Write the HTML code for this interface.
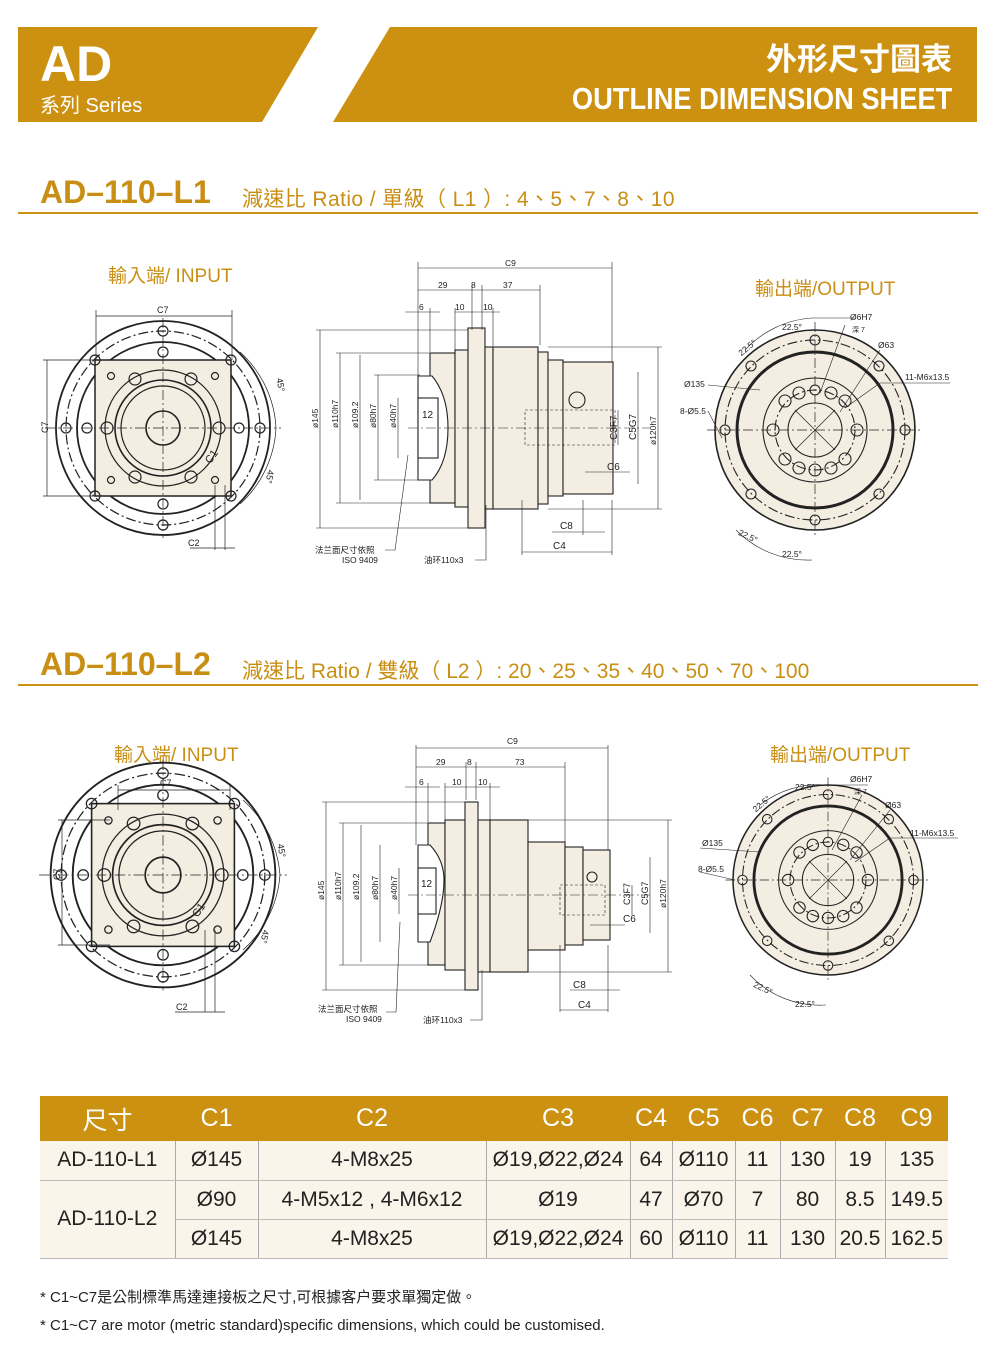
<!DOCTYPE html>
<html><head><meta charset="utf-8">
<style>
*{margin:0;padding:0;box-sizing:border-box}
body{width:1000px;height:1359px;background:#fff;position:relative;overflow:hidden;font-family:"Liberation Sans","Noto Sans CJK TC",sans-serif}
.abs{position:absolute}
.gold{color:#c98f14}
table{border-collapse:collapse;position:absolute;left:40px;top:1096px;width:908px;font-family:"Liberation Sans","Noto Sans CJK TC",sans-serif}
td,th{text-align:center;font-size:21px;color:#222;border-right:1px solid #aaa;border-bottom:1px solid #bbb;background:#fbf4ea;padding:0}
th{background:#cc9110;color:#fff;font-weight:normal;font-size:25px;height:45px;border-right:none;border-bottom:none}
td{height:39px}
td:last-child{border-right:none}
</style></head><body>
<svg class="abs" style="left:0;top:0" width="1000" height="130">
<polygon points="18,27 318,27 262,122 18,122" fill="#cc9110"/>
<polygon points="390,27 977,27 977,122 333,122" fill="#cc9110"/>
</svg>
<div class="abs" style="left:40px;top:34px;color:#fff;font-size:50px;font-weight:bold;line-height:60px">AD</div>
<div class="abs" style="left:40px;top:89px;color:#fff;font-size:20px">系列 Series</div>
<div class="abs" style="right:48px;top:34px;color:#fff;font-size:31px;font-weight:bold">外形尺寸圖表</div>
<div class="abs" style="right:48px;top:81px;color:#fff;font-size:31px;font-weight:bold;transform:scaleX(0.88);transform-origin:right">OUTLINE DIMENSION SHEET</div>

<div class="abs gold" style="left:40px;top:174px;font-size:32px;font-weight:bold">AD–110–L1</div>
<div class="abs gold" style="left:242px;top:183px;font-size:21px;letter-spacing:0.4px">減速比 Ratio / 單級（ L1 ）:  4、5、7、8、10</div>
<div class="abs" style="left:18px;top:212px;width:960px;height:2px;background:#cc9110"></div>
<div class="abs gold" style="left:40px;top:646px;font-size:32px;font-weight:bold">AD–110–L2</div>
<div class="abs gold" style="left:242px;top:655px;font-size:21px;letter-spacing:0px">減速比 Ratio / 雙級（ L2 ）:  20、25、35、40、50、70、100</div>
<div class="abs" style="left:18px;top:684px;width:960px;height:2px;background:#cc9110"></div>

<div class="abs gold" style="left:108px;top:261px;font-size:19px">輸入端/ INPUT</div>
<div class="abs gold" style="left:755px;top:274px;font-size:19px">輸出端/OUTPUT</div>
<div class="abs gold" style="left:114px;top:740px;font-size:19px">輸入端/ INPUT</div>
<div class="abs gold" style="left:770px;top:740px;font-size:19px">輸出端/OUTPUT</div>

<svg class="abs" style="left:0;top:0" width="1000" height="1090" font-family="Liberation Sans, Noto Sans CJK TC, sans-serif" font-size="9" fill="#222">
<defs>
<g id="inp" stroke="#222" fill="none" stroke-width="1.2">
<circle r="107" fill="#fff" stroke-width="1.8"/>
<circle r="97" stroke-dasharray="10,3,2,3"/>
<circle r="86" stroke-width="1.8"/>
<rect x="-68" y="-68" width="136" height="136" fill="#f4ede2" stroke-width="1.5"/>
<circle r="58"/><circle r="48" stroke-width="1.6"/><circle r="42"/><circle r="17" stroke-width="1.6"/>
<line x1="-118" y1="0" x2="118" y2="0" stroke-dasharray="10,3,2,3" stroke-width=".7"/>
<line x1="0" y1="-110" x2="0" y2="110" stroke-dasharray="10,3,2,3" stroke-width=".7"/>
<g stroke-width="1.2"><circle cx="0" cy="-97" r="5"/><circle cx="0" cy="97" r="5"/><circle cx="-97" cy="0" r="5"/><circle cx="97" cy="0" r="5"/>
<circle cx="-68" cy="-68" r="5"/><circle cx="68" cy="-68" r="5"/><circle cx="-68" cy="68" r="5"/><circle cx="68" cy="68" r="5"/>
<circle cx="0" cy="-76" r="5"/><circle cx="0" cy="76" r="5"/><circle cx="-76" cy="0" r="5"/><circle cx="76" cy="0" r="5"/>
<circle cx="-28" cy="-49" r="6"/><circle cx="28" cy="-49" r="6"/><circle cx="-28" cy="49" r="6"/><circle cx="28" cy="49" r="6"/>
<circle cx="-56" cy="0" r="6"/><circle cx="56" cy="0" r="6"/>
<circle cx="-52" cy="-52" r="3.5"/><circle cx="52" cy="-52" r="3.5"/><circle cx="-52" cy="52" r="3.5"/><circle cx="52" cy="52" r="3.5"/></g>
</g>
<g id="outp" stroke="#222" fill="none" stroke-width="1.1">
<circle r="100" fill="#f4ede2" stroke-width="1.6"/>
<circle r="90" stroke-dasharray="10,3,2,3"/>
<circle r="78" stroke-width="3"/>
<circle r="52"/><circle r="40" stroke-dasharray="10,3,2,3"/><circle r="27"/>
<line x1="-108" y1="0" x2="108" y2="0" stroke-dasharray="10,3,2,3" stroke-width=".7"/>
<line x1="0" y1="-108" x2="0" y2="108" stroke-dasharray="10,3,2,3" stroke-width=".7"/>
<line x1="-20" y1="-20" x2="20" y2="20" stroke-width=".7"/><line x1="20" y1="-20" x2="-20" y2="20" stroke-width=".7"/>
<circle cx="0" cy="-90" r="5"/><circle cx="0" cy="90" r="5"/><circle cx="-90" cy="0" r="5"/><circle cx="90" cy="0" r="5"/>
<circle cx="-64" cy="-64" r="5"/><circle cx="64" cy="-64" r="5"/><circle cx="-64" cy="64" r="5"/><circle cx="64" cy="64" r="5"/>
<circle cx="0" cy="-40" r="5"/><circle cx="0" cy="40" r="6"/><circle cx="-16" cy="-37" r="6"/><circle cx="16" cy="-37" r="6"/>
<circle cx="-30" cy="-29" r="6"/><circle cx="30" cy="-29" r="6"/><circle cx="-42" cy="0" r="6"/><circle cx="42" cy="0" r="6"/>
<circle cx="-30" cy="29" r="6"/><circle cx="30" cy="29" r="6"/><circle cx="-16" cy="38" r="6"/><circle cx="16" cy="38" r="6"/>
</g>
</defs>

<!-- L1 input -->
<use href="#inp" x="163" y="428"/>
<g stroke="#222" stroke-width=".7" fill="none">
<line x1="96" y1="316" x2="232" y2="316"/><line x1="96" y1="310" x2="96" y2="360"/><line x1="232" y1="310" x2="232" y2="360"/>
<line x1="47" y1="360" x2="47" y2="496"/><line x1="43" y1="360" x2="96" y2="360"/><line x1="43" y1="496" x2="96" y2="496"/>
<path d="M240,352 A110,110 0 0 1 276,428 A110,110 0 0 1 240,504"/>
<line x1="215" y1="485" x2="215" y2="550"/><line x1="225" y1="485" x2="225" y2="550"/><line x1="190" y1="548" x2="235" y2="548"/>
</g>
<text x="157" y="313">C7</text><text x="37" y="434" transform="rotate(-90 42 428)">C7</text>
<text x="188" y="546">C2</text><text x="276" y="385" transform="rotate(80 280 382)">45°</text><text x="265" y="478" transform="rotate(100 270 475)">45°</text>
<text x="205" y="462" transform="rotate(-55 210 458)" font-size="11">C1</text>

<!-- L2 input -->
<use href="#inp" transform="translate(163 875) scale(1.05)"/>
<g stroke="#222" stroke-width=".7" fill="none">
<line x1="118" y1="790" x2="230" y2="790"/><line x1="118" y1="785" x2="118" y2="810"/><line x1="230" y1="785" x2="230" y2="810"/>
<line x1="62" y1="820" x2="62" y2="945"/><line x1="58" y1="820" x2="110" y2="820"/><line x1="58" y1="945" x2="110" y2="945"/>
<path d="M243,800 A112,112 0 0 1 280,875 A112,112 0 0 1 243,950"/>
<line x1="205" y1="930" x2="205" y2="1012"/><line x1="215" y1="930" x2="215" y2="1012"/><line x1="175" y1="1012" x2="225" y2="1012"/>
</g>
<text x="160" y="786">C7</text><text x="50" y="880" transform="rotate(-90 55 875)">C7</text><text x="176" y="1010">C2</text>
<text x="276" y="850" transform="rotate(80 280 848)">45°</text><text x="260" y="938" transform="rotate(100 265 935)">45°</text>
<text x="193" y="915" transform="rotate(-55 198 912)" font-size="11">C1</text>

<!-- L1 side -->
<g stroke="#222" stroke-width="1.1" fill="#f4ede2">
<rect x="430" y="353" width="25" height="150"/>
<rect x="455" y="350" width="13" height="157"/>
<rect x="468" y="328" width="17" height="200"/>
<rect x="485" y="347" width="8" height="162"/>
<rect x="493" y="347" width="45" height="162"/>
<rect x="538" y="352" width="10" height="152"/>
<rect x="548" y="360" width="15" height="136"/>
<rect x="563" y="362" width="50" height="132"/>
<path d="M418,376 L432,376 Q448,395 448,428 Q448,462 432,480 L418,480 Z" fill="#fff"/>
<rect x="418" y="398" width="20" height="60" fill="#fff"/>
<circle cx="577" cy="400" r="8" fill="none"/>
</g>
<g stroke="#222" stroke-width=".6" fill="none">
<line x1="408" y1="428" x2="650" y2="428" stroke-dasharray="10,3,2,3"/>
<rect x="525" y="410" width="90" height="35" stroke-dasharray="3,2"/>
<line x1="418" y1="262" x2="418" y2="380"/><line x1="612" y1="262" x2="612" y2="362"/><line x1="418" y1="268" x2="612" y2="268"/>
<line x1="418" y1="290" x2="540" y2="290"/><line x1="472" y1="285" x2="472" y2="330"/><line x1="482" y1="285" x2="482" y2="330"/><line x1="540" y1="285" x2="540" y2="345"/>
<line x1="405" y1="312" x2="440" y2="312"/><line x1="430" y1="308" x2="430" y2="352"/><line x1="455" y1="312" x2="500" y2="312"/><line x1="455" y1="308" x2="455" y2="350"/><line x1="493" y1="308" x2="493" y2="346"/>
<line x1="320" y1="330" x2="320" y2="528"/><line x1="316" y1="330" x2="468" y2="330"/><line x1="316" y1="528" x2="468" y2="528"/>
<line x1="340" y1="353" x2="340" y2="503"/><line x1="336" y1="353" x2="430" y2="353"/><line x1="336" y1="503" x2="430" y2="503"/>
<line x1="360" y1="355" x2="360" y2="500"/>
<line x1="378" y1="375" x2="378" y2="480"/><line x1="374" y1="375" x2="420" y2="375"/><line x1="374" y1="480" x2="420" y2="480"/>
<line x1="398" y1="398" x2="398" y2="458"/>
<line x1="658" y1="347" x2="658" y2="509"/><line x1="548" y1="347" x2="662" y2="347"/><line x1="548" y1="509" x2="662" y2="509"/>
<line x1="638" y1="372" x2="638" y2="484"/><line x1="618" y1="410" x2="618" y2="445"/>
<line x1="585" y1="472" x2="630" y2="472"/>
<line x1="522" y1="500" x2="522" y2="555"/><line x1="612" y1="500" x2="612" y2="555"/><line x1="522" y1="552" x2="612" y2="552"/>
<line x1="583" y1="500" x2="583" y2="535"/><line x1="552" y1="532" x2="605" y2="532"/>
<path d="M408,455 L395,550 L385,550"/><path d="M486,505 L486,560 L475,560"/>
</g>
<g font-size="8.5">
<text x="505" y="266">C9</text><text x="438" y="288">29</text><text x="471" y="288">8</text><text x="503" y="288">37</text>
<text x="419" y="310">6</text><text x="455" y="310">10</text><text x="483" y="310">10</text>
<text x="422" y="418" font-size="10">12</text>
<text x="318" y="428" transform="rotate(-90 318 428)">ø145</text><text x="338" y="428" transform="rotate(-90 338 428)">ø110h7</text>
<text x="358" y="428" transform="rotate(-90 358 428)">ø109.2</text><text x="376" y="428" transform="rotate(-90 376 428)">ø80h7</text>
<text x="396" y="428" transform="rotate(-90 396 428)">ø40h7</text>
<text x="617" y="440" transform="rotate(-90 617 440)" font-size="10">C3F7</text><text x="636" y="440" transform="rotate(-90 636 440)" font-size="10">C5G7</text>
<text x="656" y="445" transform="rotate(-90 656 445)">ø120h7</text>
<text x="607" y="470" font-size="10">C6</text><text x="560" y="529" font-size="10">C8</text><text x="553" y="549" font-size="10">C4</text>
<text x="315" y="553">法兰面尺寸依照</text><text x="342" y="563">ISO 9409</text><text x="424" y="563">油环110x3</text>
</g>

<!-- L2 side -->
<g stroke="#222" stroke-width="1.1" fill="#f4ede2">
<rect x="428" y="823" width="17" height="142"/>
<rect x="445" y="820" width="20" height="150"/>
<rect x="465" y="802" width="13" height="188"/>
<rect x="478" y="820" width="12" height="152"/>
<rect x="490" y="820" width="38" height="152"/>
<rect x="528" y="842" width="37" height="108"/>
<rect x="565" y="847" width="18" height="98"/>
<rect x="583" y="850" width="27" height="90"/>
<path d="M418,845 L430,845 Q444,860 444,880 Q444,905 430,942 L418,942 Z" fill="#fff"/>
<rect x="418" y="868" width="18" height="46" fill="#fff"/>
<circle cx="592" cy="877" r="5" fill="none"/>
</g>
<g stroke="#222" stroke-width=".6" fill="none">
<line x1="408" y1="895" x2="650" y2="895" stroke-dasharray="10,3,2,3"/>
<rect x="560" y="885" width="45" height="30" stroke-dasharray="3,2"/>
<line x1="416" y1="745" x2="416" y2="845"/><line x1="608" y1="745" x2="608" y2="850"/><line x1="416" y1="748" x2="608" y2="748"/>
<line x1="416" y1="767" x2="565" y2="767"/><line x1="466" y1="762" x2="466" y2="800"/><line x1="476" y1="762" x2="476" y2="800"/><line x1="565" y1="762" x2="565" y2="842"/>
<line x1="405" y1="787" x2="440" y2="787"/><line x1="428" y1="783" x2="428" y2="822"/><line x1="445" y1="787" x2="500" y2="787"/><line x1="445" y1="783" x2="445" y2="820"/><line x1="490" y1="783" x2="490" y2="820"/>
<line x1="326" y1="802" x2="326" y2="990"/><line x1="322" y1="802" x2="465" y2="802"/><line x1="322" y1="990" x2="465" y2="990"/>
<line x1="343" y1="823" x2="343" y2="965"/><line x1="339" y1="823" x2="428" y2="823"/><line x1="339" y1="965" x2="428" y2="965"/>
<line x1="361" y1="825" x2="361" y2="962"/>
<line x1="380" y1="845" x2="380" y2="942"/><line x1="399" y1="868" x2="399" y2="914"/>
<line x1="668" y1="820" x2="668" y2="972"/><line x1="528" y1="820" x2="672" y2="820"/><line x1="528" y1="972" x2="672" y2="972"/>
<line x1="650" y1="857" x2="650" y2="933"/><line x1="632" y1="885" x2="632" y2="915"/>
<line x1="590" y1="925" x2="625" y2="925"/>
<line x1="560" y1="945" x2="560" y2="1012"/><line x1="608" y1="945" x2="608" y2="1012"/><line x1="560" y1="1010" x2="608" y2="1010"/>
<line x1="570" y1="990" x2="620" y2="990"/>
<path d="M400,922 L396,1012 L386,1012"/><path d="M482,970 L482,1020 L470,1020"/>
</g>
<g font-size="8.5">
<text x="507" y="744">C9</text><text x="436" y="765">29</text><text x="467" y="765">8</text><text x="515" y="765">73</text>
<text x="419" y="785">6</text><text x="452" y="785">10</text><text x="478" y="785">10</text>
<text x="421" y="887" font-size="10">12</text>
<text x="324" y="900" transform="rotate(-90 324 900)">ø145</text><text x="341" y="900" transform="rotate(-90 341 900)">ø110h7</text>
<text x="359" y="900" transform="rotate(-90 359 900)">ø109.2</text><text x="378" y="900" transform="rotate(-90 378 900)">ø80h7</text>
<text x="397" y="900" transform="rotate(-90 397 900)">ø40h7</text>
<text x="630" y="905" transform="rotate(-90 630 905)" font-size="9">C3F7</text><text x="648" y="905" transform="rotate(-90 648 905)" font-size="9">C5G7</text>
<text x="666" y="908" transform="rotate(-90 666 908)">ø120h7</text>
<text x="623" y="922" font-size="10">C6</text><text x="573" y="988" font-size="10">C8</text><text x="578" y="1008" font-size="10">C4</text>
<text x="318" y="1012">法兰面尺寸依照</text><text x="346" y="1022">ISO 9409</text><text x="423" y="1023">油环110x3</text>
</g>

<!-- L1 output -->
<use href="#outp" x="815" y="430"/>
<g stroke="#222" stroke-width=".6" fill="none">
<path d="M745,350 A100,100 0 0 1 812,318"/><path d="M812,318 L855,318"/><path d="M736,530 A100,100 0 0 0 812,560"/>
<line x1="708" y1="385" x2="760" y2="390"/><line x1="708" y1="411" x2="722" y2="438"/>
<line x1="845" y1="325" x2="820" y2="393"/><line x1="880" y1="350" x2="840" y2="412"/><line x1="950" y1="383" x2="880" y2="383"/><line x1="880" y1="383" x2="845" y2="408"/>
</g>
<g font-size="8.5"><text x="737" y="352" transform="rotate(-40 745 348)">22.5°</text><text x="782" y="330">22.5°</text>
<text x="850" y="320">Ø6H7</text><text x="852" y="332" font-size="7">深 7</text><text x="878" y="348">Ø63</text>
<text x="905" y="380">11-M6x13.5</text><text x="684" y="387">Ø135</text><text x="680" y="414">8-Ø5.5</text>
<text x="737" y="538" transform="rotate(25 745 538)">22.5°</text><text x="782" y="557">22.5°</text></g>

<!-- L2 output -->
<use href="#outp" transform="translate(828 880) scale(0.95)"/>
<g stroke="#222" stroke-width=".6" fill="none">
<path d="M760,805 A95,95 0 0 1 826,785"/><path d="M826,785 L868,785"/><path d="M750,975 A95,95 0 0 0 826,1005"/>
<line x1="700" y1="848" x2="760" y2="852"/><line x1="700" y1="872" x2="735" y2="880"/>
<line x1="862" y1="795" x2="832" y2="850"/><line x1="890" y1="810" x2="850" y2="860"/><line x1="958" y1="838" x2="890" y2="838"/><line x1="890" y1="838" x2="855" y2="862"/>
</g>
<g font-size="8.5"><text x="752" y="808" transform="rotate(-40 760 805)">22.5°</text><text x="795" y="790">22.5°</text>
<text x="850" y="782">Ø6H7</text><text x="854" y="794" font-size="7">深 7</text><text x="885" y="808">Ø63</text>
<text x="910" y="836">11-M6x13.5</text><text x="702" y="846">Ø135</text><text x="698" y="872">8-Ø5.5</text>
<text x="752" y="990" transform="rotate(25 760 990)">22.5°</text><text x="795" y="1007">22.5°</text></g>
</svg>

<table>
<tr><th style="width:135px">尺寸</th><th style="width:83px">C1</th><th style="width:228px">C2</th><th style="width:144px">C3</th><th style="width:42px">C4</th><th style="width:63px">C5</th><th style="width:45px">C6</th><th style="width:55px">C7</th><th style="width:50px">C8</th><th>C9</th></tr>
<tr><td>AD-110-L1</td><td>Ø145</td><td>4-M8x25</td><td>Ø19,Ø22,Ø24</td><td>64</td><td>Ø110</td><td>11</td><td>130</td><td>19</td><td>135</td></tr>
<tr><td rowspan="2">AD-110-L2</td><td>Ø90</td><td>4-M5x12 , 4-M6x12</td><td>Ø19</td><td>47</td><td>Ø70</td><td>7</td><td>80</td><td>8.5</td><td>149.5</td></tr>
<tr><td>Ø145</td><td>4-M8x25</td><td>Ø19,Ø22,Ø24</td><td>60</td><td>Ø110</td><td>11</td><td>130</td><td>20.5</td><td>162.5</td></tr>
</table>
<div class="abs" style="left:40px;top:1286px;font-size:15px;color:#222">* C1~C7是公制標準馬達連接板之尺寸,可根據客户要求單獨定做。</div>
<div class="abs" style="left:40px;top:1317px;font-size:15px;color:#222">* C1~C7 are motor (metric standard)specific dimensions, which could be customised.</div>
</body></html>
